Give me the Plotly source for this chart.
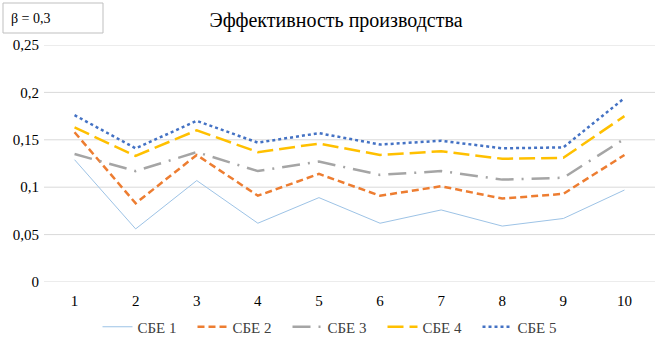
import plotly.graph_objects as go

categories = [1, 2, 3, 4, 5, 6, 7, 8, 9, 10]
sbe1 = [0.129, 0.056, 0.107, 0.062, 0.089, 0.062, 0.076, 0.059, 0.067, 0.097]
sbe2 = [0.158, 0.083, 0.134, 0.091, 0.114, 0.091, 0.101, 0.088, 0.093, 0.134]
sbe3 = [0.135, 0.117, 0.137, 0.117, 0.127, 0.113, 0.117, 0.108, 0.110, 0.151]
sbe4 = [0.163, 0.133, 0.160, 0.137, 0.146, 0.134, 0.138, 0.130, 0.131, 0.175]
sbe5 = [0.176, 0.141, 0.170, 0.147, 0.157, 0.145, 0.149, 0.141, 0.142, 0.194]
series_names = ["СБЕ 1", "СБЕ 2", "СБЕ 3", "СБЕ 4", "СБЕ 5"]
y_tickvals = [0, 0.05, 0.1, 0.15, 0.2, 0.25]
y_ticktext = ["0", "0,05", "0,1", "0,15", "0,2", "0,25"]

styles = [
    dict(color="#9dc3e6", width=1, dash="solid"),
    dict(color="#ed7d31", width=2.5, dash="7px,4px"),
    dict(color="#a5a5a5", width=2.5, dash="18px,8px,2px,8px"),
    dict(color="#ffc000", width=2.5, dash="16px,6px"),
    dict(color="#4472c4", width=2.5, dash="dot"),
]

fig = go.Figure()
for name, vals, st in zip(series_names, [sbe1, sbe2, sbe3, sbe4, sbe5], styles):
    fig.add_trace(go.Scatter(x=categories, y=vals, mode="lines", name=name, line=st))

font = "Times New Roman, Liberation Serif, DejaVu Serif, serif"
L, R, T, B = 44, 8, 45, 63
W, H = 663, 345
pw, ph = W - L - R, H - T - B

def px_x(x):
    return (x - L) / pw

def px_y(y):
    return (H - B - y) / ph

for v in y_tickvals:
    fig.add_hline(y=v, line=dict(color="#d9d9d9", width=1), layer="below")

fig.update_layout(
    width=W, height=H,
    margin=dict(l=L, r=R, t=T, b=B, autoexpand=False),
    plot_bgcolor="white", paper_bgcolor="white",
    font=dict(family=font, size=14, color="#404040"),
    title=dict(text="Эффективность производства", x=336 / W, xanchor="center",
               y=1 - 20 / H, yanchor="middle",
               font=dict(family=font, size=20, color="#000000")),
    xaxis=dict(range=[0.5, 10.5], tickvals=categories, showgrid=False, zeroline=False,
               showline=False, ticks="", ticklabelstandoff=8,
               tickfont=dict(family=font, size=15, color="#000000")),
    yaxis=dict(range=[0, 0.25], tickvals=y_tickvals, ticktext=y_ticktext,
               showgrid=False, zeroline=False,
               showline=False, ticks="", ticklabelstandoff=4,
               tickfont=dict(family=font, size=15, color="#000000")),
    legend=dict(orientation="h", x=335 / W, xanchor="center", xref="container",
                y=px_y(327), yanchor="middle",
                font=dict(family=font, size=15, color="#404040"),
                entrywidth=50, entrywidthmode="pixels",
                traceorder="normal"),
    showlegend=True,
)
fig.add_shape(type="rect", xref="paper", yref="paper",
              x0=px_x(3), x1=px_x(103), y0=px_y(33), y1=px_y(3),
              line=dict(color="#bfbfbf", width=1), fillcolor="white")
fig.add_annotation(text="β = 0,3", xref="paper", yref="paper", x=px_x(9), y=px_y(18),
                   xanchor="left", yanchor="middle", showarrow=False,
                   font=dict(family=font, size=14, color="#000000"))

fig.write_html("out.html", config={"displayModeBar": False},
               post_script="document.body.style.margin='0';")
